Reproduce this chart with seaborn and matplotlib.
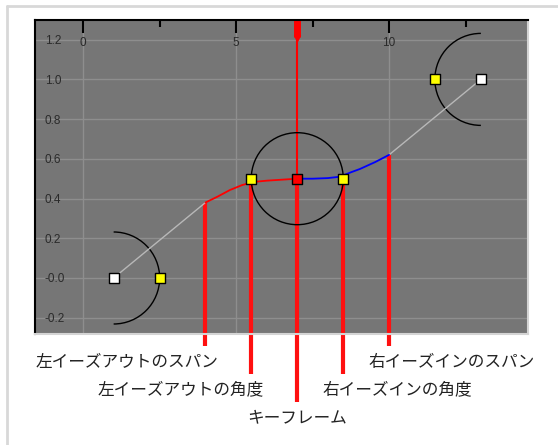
import matplotlib
matplotlib.use("Agg")
import matplotlib.pyplot as plt
from matplotlib.patches import Arc
from matplotlib.lines import Line2D
from matplotlib.ticker import FixedFormatter, FixedLocator
import seaborn as sns

# key points (frame, value)
key_x = [7.0]
key_y = [0.5]
end_x = [1.0, 13.0]
end_y = [0.0, 1.0]
handle_x = [2.5, 5.5, 8.5, 11.5]
handle_y = [0.0, 0.5, 0.5, 1.0]

# straight span segments
span_left_x = [1.0, 4.0]
span_left_y = [0.0, 0.38]
span_right_x = [10.0, 13.0]
span_right_y = [0.62, 1.0]

# eased parts of the curve
ease_out_x = [4.0, 4.4, 4.8, 5.2, 5.6, 6.0, 6.5, 7.0]
ease_out_y = [0.38, 0.41, 0.443, 0.468, 0.484, 0.49, 0.495, 0.5]
ease_in_x = [7.0, 7.5, 8.0, 8.4, 8.75, 9.05, 9.55, 10.0]
ease_in_y = [0.5, 0.5, 0.503, 0.51, 0.532, 0.549, 0.584, 0.62]

# callouts
callout_labels = ["左イーズアウトのスパン", "左イーズアウトの角度", "キーフレーム",
                  "右イーズインの角度", "右イーズインのスパン"]
callout_x = [4.0, 5.5, 7.0, 8.5, 10.0]
callout_y = [0.38, 0.5, 0.5, 0.5, 0.62]
callout_tier = [0, 1, 2, 1, 0]

x_ticks = [0, 5, 10]
x_minor = [2.5, 7.5, 12.5]
y_ticks = [-0.2, 0.0, 0.2, 0.4, 0.6, 0.8, 1.0, 1.2]
y_tick_labels = ["-0.2", "-0.0", "0.2", "0.4", "0.6", "0.8", "1.0", "1.2"]
y_minor = [-0.1, 0.1, 0.3, 0.5, 0.7, 0.9, 1.1]

sns.set_style("white")
plt.rcParams["font.family"] = ["Noto Sans CJK JP", "DejaVu Sans"]

W, H = 558, 445
fig = plt.figure(figsize=(W / 100, H / 100), dpi=100)
ax_l, ax_r, ax_t, ax_b = 35, 528, 20, 334
ax = fig.add_axes([ax_l / W, 1 - ax_b / H, (ax_r - ax_l) / W, (ax_b - ax_t) / H])
ax.set_facecolor("#767676")
xlim = (-1.57, 14.54)
ylim = (-0.282, 1.299)
ax.set_xlim(*xlim)
ax.set_ylim(*ylim)

# grid
for x in x_ticks:
    ax.axvline(x, color="#8e8e8e", lw=1, zorder=0.5)
for y in y_ticks:
    ax.axhline(y, color="#8e8e8e", lw=1, zorder=0.5)

# spines
for s in ["left", "top"]:
    ax.spines[s].set_color("black")
    ax.spines[s].set_linewidth(1.5)
for s in ["right", "bottom"]:
    ax.spines[s].set_color("#d4d4d4")
    ax.spines[s].set_linewidth(1.5)

# ticks
ax.xaxis.tick_top()
ax.xaxis.set_major_locator(FixedLocator(x_ticks))
ax.xaxis.set_minor_locator(FixedLocator(x_minor))
ax.yaxis.set_major_locator(FixedLocator(y_ticks))
ax.yaxis.set_major_formatter(FixedFormatter(y_tick_labels))
ax.yaxis.set_minor_locator(FixedLocator(y_minor))
ax.tick_params(axis="x", which="major", direction="in", length=9, width=1.5,
               pad=-21, labelsize=8.5, labelcolor="#2a2a2a", color="black")
ax.tick_params(axis="x", which="minor", direction="in", length=5, width=1.5, color="black")
ax.tick_params(axis="y", which="major", direction="in", length=8, width=1.2,
               pad=-7, labelsize=8.5, labelcolor="#2a2a2a", color="black")
ax.tick_params(axis="y", which="minor", direction="in", length=5, width=1.2, color="black")
for lab in ax.get_xticklabels() + ax.get_yticklabels():
    lab.set_family("Liberation Sans")
for lab in ax.get_yticklabels():
    lab.set_horizontalalignment("left")

# circles of constant pixel radius
r_px = 46
rx = r_px * (xlim[1] - xlim[0]) / (ax_r - ax_l)
ry = r_px * (ylim[1] - ylim[0]) / (ax_b - ax_t)
ax.add_patch(Arc((end_x[0], end_y[0]), 2 * rx, 2 * ry, theta1=-90, theta2=90,
                 color="black", lw=1, zorder=3))
ax.add_patch(Arc((end_x[1], end_y[1]), 2 * rx, 2 * ry, theta1=90, theta2=270,
                 color="black", lw=1, zorder=3))
ax.add_patch(Arc((key_x[0], key_y[0]), 2 * rx, 2 * ry, theta1=0, theta2=360,
                 color="black", lw=1, zorder=3))

# keyframe marker line through the whole graph
ax.plot([key_x[0], key_x[0]], [key_y[0], ylim[1]], color="red", lw=1.5, zorder=2)
ax.plot([key_x[0], key_x[0]], [ylim[1] - 0.085, ylim[1]], color="red", lw=5,
        solid_capstyle="butt", zorder=2)
ax.plot([key_x[0]], [ylim[1] - 0.09], marker="v", color="red", ms=5, zorder=2)

# callout lines and labels
line_end = [-0.342, -0.483, -0.624]
label_y = [-0.423, -0.564, -0.705]
for lab, cx, cy, tier in zip(callout_labels, callout_x, callout_y, callout_tier):
    ax.plot([cx, cx], [cy, line_end[tier]], color="#ff1010", lw=3,
            solid_capstyle="butt", clip_on=False, zorder=2)
    if cx < key_x[0]:
        ha, dx = "right", 9
    elif cx > key_x[0]:
        ha, dx = "left", -15
    else:
        ha, dx = "center", 0
    ax.annotate(lab, xy=(cx, label_y[tier]), xytext=(dx, 0), textcoords="offset points",
                ha=ha, va="center", fontsize=12, color="#222222",
                annotation_clip=False)

# curve
sns.lineplot(x=span_left_x, y=span_left_y, ax=ax, color="#b8b8b8", lw=1,
             estimator=None, sort=False, zorder=3)
sns.lineplot(x=span_right_x, y=span_right_y, ax=ax, color="#b8b8b8", lw=1,
             estimator=None, sort=False, zorder=3)
sns.lineplot(x=ease_out_x, y=ease_out_y, ax=ax, color="red", lw=1.3,
             estimator=None, sort=False, zorder=3)
sns.lineplot(x=ease_in_x, y=ease_in_y, ax=ax, color="blue", lw=1.3,
             estimator=None, sort=False, zorder=3)

# points
sns.scatterplot(x=end_x, y=end_y, ax=ax, marker="s", s=45, color="white",
                edgecolor="black", linewidth=1, zorder=5)
sns.scatterplot(x=handle_x, y=handle_y, ax=ax, marker="s", s=45, color="#ffff00",
                edgecolor="black", linewidth=1, zorder=5)
sns.scatterplot(x=key_x, y=key_y, ax=ax, marker="s", s=45, color="red",
                edgecolor="black", linewidth=1, zorder=5)
ax.set_xlabel("")
ax.set_ylabel("")

# page frame
fig.add_artist(Line2D([7 / W, 1], [1 - 5.5 / H, 1 - 5.5 / H], color="#d8d8d8", lw=2))
fig.add_artist(Line2D([7 / W, 7 / W], [0, 1 - 5.5 / H], color="#d8d8d8", lw=2))

fig.savefig("out.png", dpi=100)
